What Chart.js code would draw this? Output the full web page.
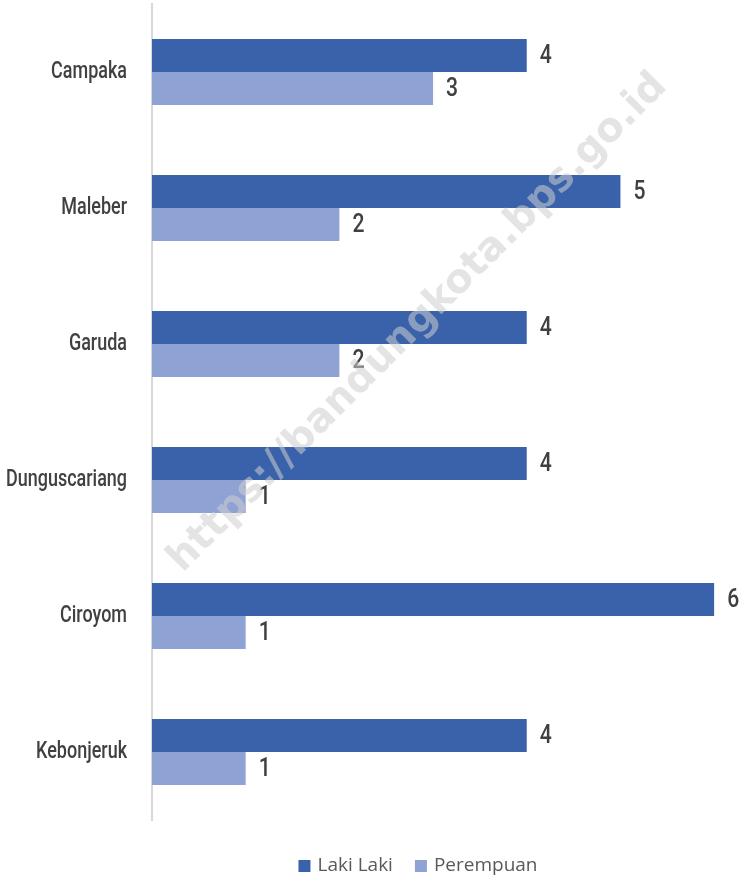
<!DOCTYPE html>
<html>
<head>
<meta charset="utf-8">
<script src="https://cdn.jsdelivr.net/npm/chart.js@4.4.0/dist/chart.umd.min.js"></script>
<style>
  html, body { margin: 0; padding: 0; background: #fff; }
  canvas { display: block; }
</style>
</head>
<body>
<canvas id="chart" width="742" height="878"></canvas>
<script>
const categories = ['Campaka', 'Maleber', 'Garuda', 'Dunguscariang', 'Ciroyom', 'Kebonjeruk'];
const lakiLaki = [4, 5, 4, 4, 6, 4];
const perempuan = [3, 2, 2, 1, 1, 1];
const seriesNames = ['Laki Laki', 'Perempuan'];
const seriesColors = ['#3a62aa', '#8fa2d4'];

const labelFont = '500 24px Roboto, sans-serif';
const textColor = '#404040';

// squeeze text horizontally so it looks like the narrow font of the original
function narrowText(ctx, text, x, y, align, sx) {
    ctx.save();
    ctx.translate(x, y);
    ctx.scale(sx, 1);
    ctx.textAlign = align;
    ctx.fillText(text, 0, 0);
    ctx.restore();
}

// category names next to the axis
const categoryLabels = {
    id: 'categoryLabels',
    afterDraw(chart) {
        const ctx = chart.ctx;
        const yScale = chart.scales.y;
        ctx.save();
        ctx.font = labelFont;
        ctx.fillStyle = textColor;
        ctx.textBaseline = 'middle';
        const sx = 121 / ctx.measureText('Dunguscariang').width;
        categories.forEach((name, i) => {
            narrowText(ctx, name, yScale.right - 25, yScale.getPixelForTick(i), 'right', sx);
        });
        ctx.restore();
    }
};

// value labels beside each bar
const valueLabels = {
    id: 'valueLabels',
    afterDatasetsDraw(chart) {
        const ctx = chart.ctx;
        ctx.save();
        ctx.font = '500 25px Roboto, sans-serif';
        ctx.fillStyle = textColor;
        ctx.textBaseline = 'middle';
        const sx = 12 / ctx.measureText('6').width;
        chart.data.datasets.forEach((ds, i) => {
            chart.getDatasetMeta(i).data.forEach((bar, j) => {
                narrowText(ctx, String(ds.data[j]), bar.x + 13, bar.y + 1, 'left', sx);
            });
        });
        ctx.restore();
    }
};

const legendBottom = {
    id: 'legendBottom',
    afterDraw(chart) {
        const ctx = chart.ctx;
        ctx.save();
        ctx.font = '19px "Open Sans", sans-serif';
        ctx.textBaseline = 'middle';
        ctx.textAlign = 'left';
        const box = 12, gap = 7, between = 22;
        const widths = seriesNames.map(n => box + gap + ctx.measureText(n).width);
        const total = widths.reduce((a, b) => a + b, 0) + between * (widths.length - 1);
        let x = 418 - total / 2;
        const y = 866;
        chart.data.datasets.forEach((ds, i) => {
            ctx.fillStyle = ds.backgroundColor;
            ctx.fillRect(x, y - box / 2, box, box);
            ctx.fillStyle = '#595959';
            ctx.fillText(ds.label, x + box + gap, y);
            x += widths[i] + between;
        });
        ctx.restore();
    }
};

const watermark = {
    id: 'watermark',
    afterDraw(chart) {
        const ctx = chart.ctx;
        ctx.save();
        ctx.translate(418, 323);
        ctx.rotate(-Math.PI / 4);
        ctx.font = 'bold 40px "DejaVu Sans", sans-serif';
        ctx.fillStyle = 'rgba(205,205,205,0.55)';
        ctx.textAlign = 'center';
        ctx.textBaseline = 'middle';
        ctx.fillText('https://bandungkota.bps.go.id', 0, 0);
        ctx.restore();
    }
};

new Chart(document.getElementById('chart').getContext('2d'), {
    type: 'bar',
    data: {
        labels: categories,
        datasets: [
            { label: seriesNames[0], data: lakiLaki, backgroundColor: seriesColors[0] },
            { label: seriesNames[1], data: perempuan, backgroundColor: seriesColors[1] }
        ]
    },
    options: {
        indexAxis: 'y',
        responsive: false,
        animation: false,
        layout: { padding: { top: 4, right: 26, bottom: 58, left: 0 } },
        datasets: { bar: { categoryPercentage: 0.485, barPercentage: 1 } },
        scales: {
            x: { display: false, min: 0, max: 6.02 },
            y: {
                grid: { display: false },
                border: { display: true, color: '#d9d9d9', width: 2 },
                ticks: { display: false },
                afterFit(scale) { scale.width = 152; }
            }
        },
        plugins: {
            legend: { display: false },
            tooltip: { enabled: false }
        }
    },
    plugins: [valueLabels, categoryLabels, legendBottom, watermark]
});
</script>
</body>
</html>
